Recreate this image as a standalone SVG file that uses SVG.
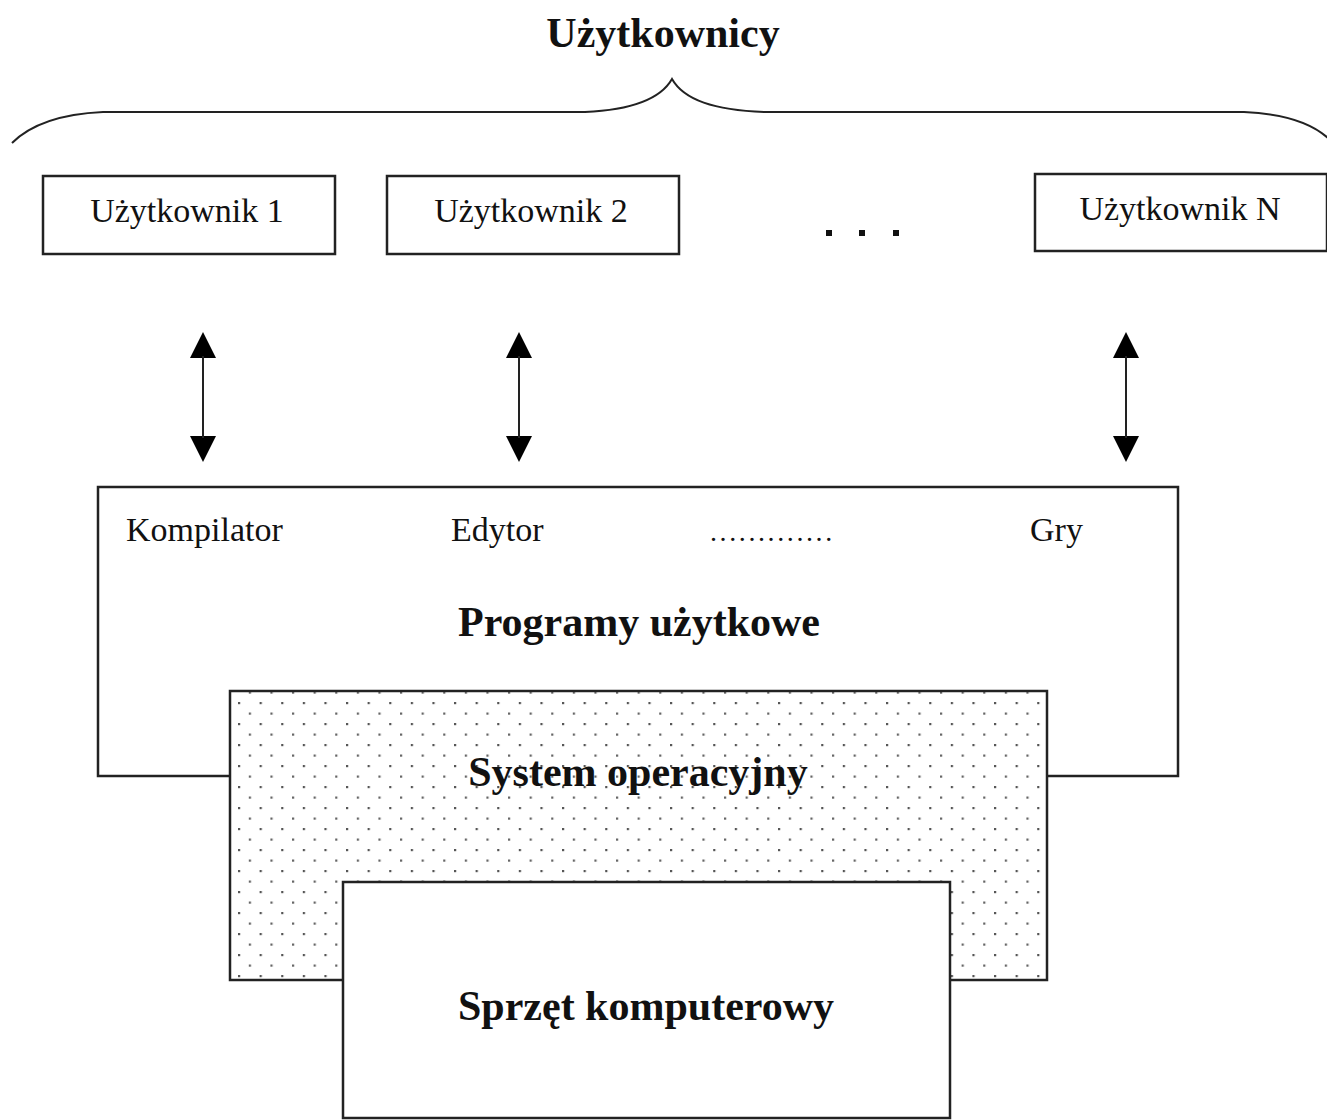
<svg xmlns="http://www.w3.org/2000/svg" width="1327" height="1120" viewBox="0 0 1327 1120">
<style>
.box{fill:#fff;stroke:#222;stroke-width:2.5}
.dotted{fill:url(#dots);stroke:#222;stroke-width:2.5}
.t{font-family:"Liberation Serif","Times New Roman",serif;fill:#111}
.r{font-size:34px}
.b{font-size:42px;font-weight:bold}
.conn{stroke:#222;stroke-width:2;fill:none}
</style>
<defs>
<pattern id="dots" patternUnits="userSpaceOnUse" x="238" y="702" width="21.6" height="21">
<rect x="0" y="0" width="21.6" height="21" fill="#fff"/>
<rect x="0" y="0" width="2.2" height="2.2" fill="#555"/>
<rect x="10.8" y="10.5" width="2.2" height="2.2" fill="#666"/>
</pattern>
</defs>
<rect width="1327" height="1120" fill="#fff"/>

<g id="title">
<text class="t b" x="663" y="47" text-anchor="middle">Użytkownicy</text>
<path class="conn" d="M12,143 C30,125 60,114 103,112 L585,112 C630,110 660,100 672,79 C684,100 714,110 764,112 L1244,112 C1290,114 1315,125 1330,140"/>
</g>

<g id="user1">
<rect class="box" x="43" y="176" width="292" height="78"/>
<text class="t r" x="187" y="222" text-anchor="middle">Użytkownik 1</text>
</g>
<g id="user2">
<rect class="box" x="387" y="176" width="292" height="78"/>
<text class="t r" x="531" y="222" text-anchor="middle">Użytkownik 2</text>
</g>
<g id="ellipsis">
<rect x="826" y="230" width="6" height="6" fill="#111"/>
<rect x="859" y="230" width="6" height="6" fill="#111"/>
<rect x="893" y="230" width="6" height="6" fill="#111"/>
</g>
<g id="userN">
<rect class="box" x="1035" y="174" width="292" height="77"/>
<text class="t r" x="1180" y="220" text-anchor="middle">Użytkownik N</text>
</g>

<g id="connectors">
<g fill="#000">
<path d="M203,332 L216,358 L190,358 z"/>
<path d="M203,462 L216,436 L190,436 z"/>
<path d="M519,332 L532,358 L506,358 z"/>
<path d="M519,462 L532,436 L506,436 z"/>
<path d="M1126,332 L1139,358 L1113,358 z"/>
<path d="M1126,462 L1139,436 L1113,436 z"/>
</g>
<line class="conn" x1="203" y1="356" x2="203" y2="438"/>
<line class="conn" x1="519" y1="356" x2="519" y2="438"/>
<line class="conn" x1="1126" y1="356" x2="1126" y2="438"/>
</g>

<g id="programy">
<rect class="box" x="98" y="487" width="1080" height="289"/>
<text class="t r" x="126" y="541">Kompilator</text>
<text class="t r" x="451" y="541">Edytor</text>
<text class="t" x="710" y="541" font-size="28" fill="#555" letter-spacing="2.6">.............</text>
<text class="t r" x="1030" y="541">Gry</text>
<text class="t b" x="639" y="636" text-anchor="middle">Programy użytkowe</text>
</g>

<g id="system">
<rect class="dotted" x="230" y="691" width="817" height="289"/>
<text class="t b" x="638" y="786" text-anchor="middle">System operacyjny</text>
</g>

<g id="sprzet">
<rect class="box" x="343" y="882" width="607" height="236"/>
<text class="t b" x="646" y="1020" text-anchor="middle">Sprzęt komputerowy</text>
</g>
</svg>
